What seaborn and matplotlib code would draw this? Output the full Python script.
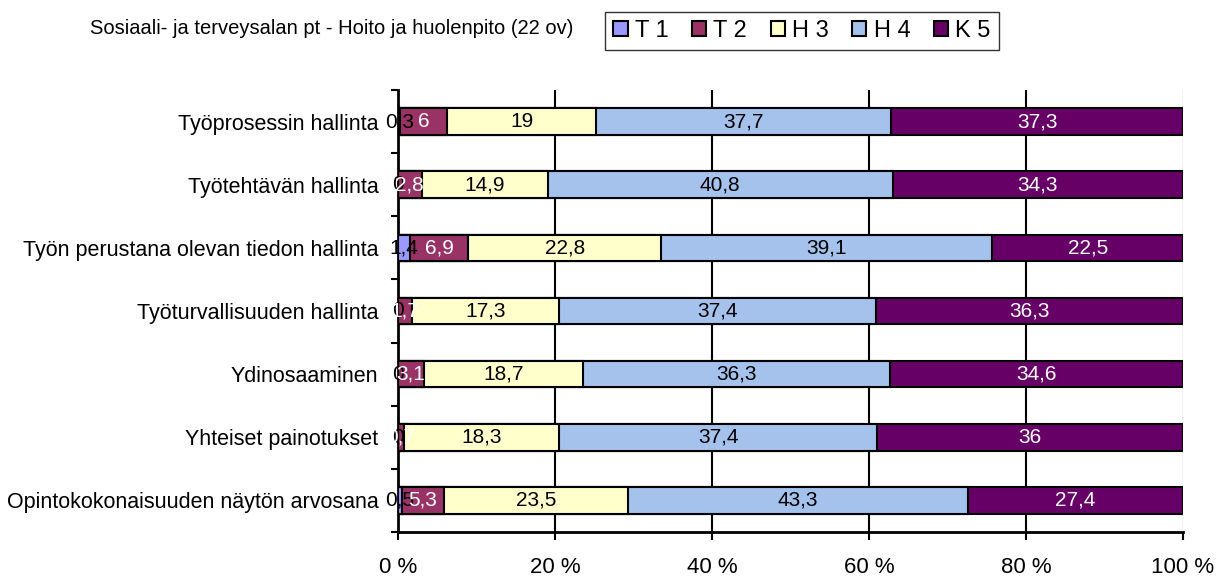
import numpy as np
import pandas as pd
import matplotlib
matplotlib.use('Agg')
import matplotlib.pyplot as plt
import seaborn as sns

# data (raw values, Excel stacks them to 100 %)
categories = ['Työprosessin hallinta', 'Työtehtävän hallinta',
              'Työn perustana olevan tiedon hallinta', 'Työturvallisuuden hallinta',
              'Ydinosaaminen', 'Yhteiset painotukset',
              'Opintokokonaisuuden näytön arvosana']
series = ['T 1', 'T 2', 'H 3', 'H 4', 'K 5']
t1 = [0.3, 0, 1.4, 0, 0, 0, 0.5]
t2 = [6, 2.8, 6.9, 1.7, 3.1, 0.7, 5.3]
h3 = [19, 14.9, 22.8, 17.3, 18.7, 18.3, 23.5]
h4 = [37.7, 40.8, 39.1, 37.4, 36.3, 37.4, 43.3]
k5 = [37.3, 34.3, 22.5, 36.3, 34.6, 36, 27.4]

colors = ['#9999FF', '#993366', '#FFFFCC', '#A4C2EC', '#660066']
text_colors = ['black', 'white', 'black', 'black', 'white']

plt.rcParams['font.family'] = ['Liberation Sans', 'DejaVu Sans']

vals = np.array([t1, t2, h3, h4, k5], dtype=float)
share = vals / vals.sum(axis=0) * 100
cum = np.cumsum(share, axis=0)

fig = plt.figure(figsize=(12.25, 5.79), dpi=100)
ax = fig.add_axes([398 / 1225, 1 - 532 / 579, 785 / 1225, 442 / 579])

# stacked bars: draw cumulative totals from the last series to the first
for i in range(len(series) - 1, -1, -1):
    df = pd.DataFrame({'cat': categories, 'val': cum[i]})
    sns.barplot(data=df, x='val', y='cat', orient='h', color=colors[i],
                saturation=1, edgecolor='black', linewidth=1.5, width=0.42,
                ax=ax, zorder=3)

# value labels
for i in range(len(series)):
    start = cum[i] - share[i]
    for j in range(len(categories)):
        lab = ('%g' % vals[i][j]).replace('.', ',')
        ax.text(start[j] + share[i][j] / 2, j, lab, ha='center', va='center',
                fontsize=15, color=text_colors[i], zorder=5)

ax.set_xlim(0, 100)
ax.set_ylim(len(categories) - 0.5, -0.5)
ax.set_xticks([0, 20, 40, 60, 80, 100])
ax.set_xticklabels(['0 %', '20 %', '40 %', '60 %', '80 %', '100 %'], fontsize=16)
ax.tick_params(axis='x', length=6, width=1.5, direction='out', pad=12)
ax.set_yticks(range(len(categories)))
ax.set_yticklabels(categories, fontsize=15.5)
ax.tick_params(axis='y', length=0, pad=14)
ax.set_yticks(np.arange(-0.5, len(categories), 1), minor=True)
ax.tick_params(axis='y', which='minor', length=5, width=1.5)
ax.set_xlabel('')
ax.set_ylabel('')
for x in [20, 40, 60, 80]:
    ax.axvline(x, color='black', linewidth=1.5, zorder=1)
ax.axvline(100, color='#c0c0c0', linewidth=1, zorder=1)
ax.spines['top'].set_visible(False)
ax.spines['right'].set_visible(False)
ax.spines['left'].set_linewidth(2)
ax.spines['bottom'].set_linewidth(2)

fig.text(90 / 1225, 1 - 29 / 579, 'Sosiaali- ja terveysalan pt - Hoito ja huolenpito (22 ov)',
         fontsize=14.5, va='center', ha='left')

handles = [plt.Rectangle((0, 0), 1, 1, facecolor=c, edgecolor='black', linewidth=1.5)
           for c in colors]
fig.legend(handles, series, loc='center', bbox_to_anchor=(802 / 1225, 1 - 31 / 579),
           ncol=5, frameon=True, fancybox=False, edgecolor='black', fontsize=17,
           handlelength=0.6, handleheight=0.6, handletextpad=0.3, columnspacing=1.0,
           borderpad=0.35)

fig.savefig('out.png', dpi=100)
